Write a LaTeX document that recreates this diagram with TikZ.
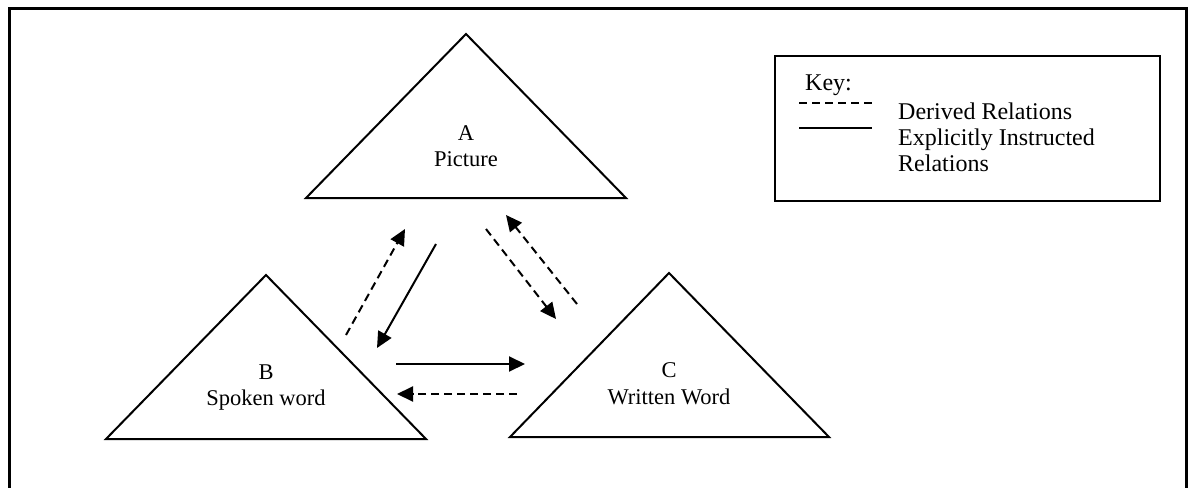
\documentclass[tikz,border=0pt]{standalone}
\usepackage{fontspec}
\setmainfont{Liberation Serif}
\usetikzlibrary{arrows.meta,positioning}

\begin{document}
\begin{tikzpicture}[x=1pt,y=-1pt, every node/.style={font=\fontsize{22.5}{27}\selectfont,inner sep=0pt},
  keytext/.style={anchor=base west,font=\fontsize{24}{28}\selectfont},
  tri/.style={line width=2pt,line join=miter},
  rel/.style={line width=2pt,-{Triangle[length=16pt,width=15pt]}},
  derived/.style={rel,dash pattern=on 8pt off 5pt}]
\useasboundingbox (0,0) rectangle (1188,487);
\draw[line width=3pt] (9,495) -- (9,9) -- (1186,9) -- (1186,495);

% triangles
\draw[tri] (466,34) -- (626,198) -- (306,198) -- cycle;
\draw[tri] (266,275) -- (426,439) -- (106,439) -- cycle;
\draw[tri] (669,273) -- (829,437) -- (510,437) -- cycle;
\node[anchor=base] (A) at (466,140) {A};
\node[anchor=base] (Apic) at (466,166) {Picture};
\node[anchor=base] (B) at (266,379) {B};
\node[anchor=base] (Bspo) at (266,405) {Spoken word};
\node[anchor=base] (C) at (669,377) {C};
\node[anchor=base] (Cwri) at (669,404) {Written Word};

% relations
\coordinate (ba0) at (346,335); \coordinate (ba1) at (405,229);
\coordinate (ab0) at (436,244); \coordinate (ab1) at (377,348);
\coordinate (ac0) at (486,229); \coordinate (ac1) at (556,319);
\coordinate (ca0) at (577,304); \coordinate (ca1) at (506,215);
\coordinate (bc0) at (396,364); \coordinate (bc1) at (525,364);
\coordinate (cb0) at (517,394); \coordinate (cb1) at (397,394);
\draw[derived] (ba0) -- (ba1);
\draw[rel] (ab0) -- (ab1);
\draw[derived] (ac0) -- (ac1);
\draw[derived] (ca0) -- (ca1);
\draw[rel] (bc0) -- (bc1);
\draw[derived] (cb0) -- (cb1);

% key
\draw[line width=2pt] (775,56) rectangle (1160,201);
\node[keytext] (key) at (805,90) {Key:};
\node[keytext] (kder) at (898,119) {Derived Relations};
\node[keytext] (kexp) at (898,145) {Explicitly Instructed};
\node[keytext] (krel) at (898,171) {Relations};
\coordinate (kd0) at (799,103); \coordinate (kd1) at (872,103);
\coordinate (ks0) at (799,128); \coordinate (ks1) at (872,128);
\draw[line width=2pt,dash pattern=on 8pt off 5pt] (kd0) -- (kd1);
\draw[line width=2.5pt] (ks0) -- (ks1);
\end{tikzpicture}
\end{document}
